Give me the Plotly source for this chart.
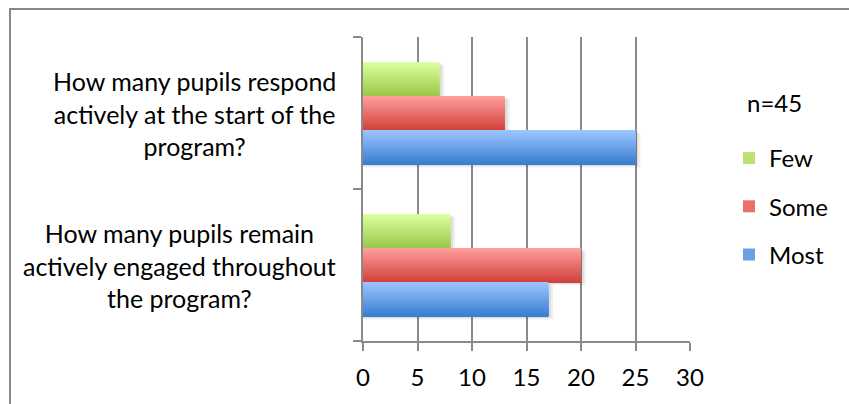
import plotly.graph_objects as go

# Survey questions (bottom to top on the category axis)
questions = [
    "How many pupils remain actively engaged throughout the program?",
    "How many pupils respond actively at the start of the program?",
]
question_lines = [
    ["How many pupils remain", "actively engaged throughout", "the program?"],
    ["How many pupils respond", "actively at the start of the", "program?"],
]

series_names = ["Few", "Some", "Most"]
few = [8, 7]
some = [20, 13]
most = [17, 25]
sample_note = "n=45"

x_ticks = [0, 5, 10, 15, 20, 25, 30]

# Gradient colours (top -> bottom) for each series
gradients = {
    "Few": ("#DCFF9F", "#9CC84A"),
    "Some": ("#FF9E9B", "#D2433E"),
    "Most": ("#9CC5FF", "#3C7FD0"),
}

FONT = "Lato"
W, H = 849, 404
L, R, T, B = 363, 159, 37, 63
PW, PH = W - L - R, H - T - B


def lerp_hex(c1, c2, t):
    a = [int(c1[i:i + 2], 16) for i in (1, 3, 5)]
    b = [int(c2[i:i + 2], 16) for i in (1, 3, 5)]
    return "rgb({},{},{})".format(*[round(a[k] + (b[k] - a[k]) * t) for k in range(3)])


def px_x(px):
    return (px - L) / PW


def px_y(py):
    return (H - B - py) / PH


values = {"Few": few, "Some": some, "Most": most}
bar_w = 0.224            # thickness of one bar in category units
centres = {"Few": bar_w, "Some": 0.0, "Most": -bar_w}
n_slices = 24
legend_rank = {"Few": 1, "Some": 2, "Most": 3}

# soft drop shadow behind each bar
shadows = []
for name in series_names:
    for dx, dy, a in [(0.45, 0.022, 0.06), (0.25, 0.012, 0.08)]:
        shadows.append(go.Bar(
            y=questions, x=[v + dx for v in values[name]], orientation="h",
            width=bar_w, offset=centres[name] - bar_w / 2 - dy,
            marker=dict(color=f"rgba(0,0,0,{a})", line=dict(width=0)),
            showlegend=False, hoverinfo="skip", legendgroup=name,
        ))

# each bar is drawn as a stack of slices, each reaching down to the bar's
# bottom edge, painted top first so the gradient has no seams
bars = []
for name in series_names:
    top_c, bot_c = gradients[name]
    sw = bar_w / n_slices
    bottom = centres[name] - bar_w / 2
    for j in range(n_slices):
        t = j / (n_slices - 1)
        y_top = centres[name] + bar_w / 2 - j * sw
        bars.append(go.Bar(
            y=questions, x=values[name], orientation="h",
            width=y_top - bottom, offset=bottom,
            marker=dict(color=lerp_hex(top_c, bot_c, t), line=dict(width=0)),
            name=name, legendgroup=name, legendrank=legend_rank[name],
            showlegend=(j == n_slices // 2),
            hovertemplate=f"{name}: %{{x}}<extra></extra>",
        ))

fig = go.Figure(data=shadows + bars)

# multi-line category labels, centred within a right-aligned block
annotations = []
for q, lines in zip(questions, question_lines):
    annotations.append(dict(
        x=px_x(338), xref="paper", xanchor="right",
        y=q, yref="y", yanchor="middle",
        text="<br>".join(lines), align="center", showarrow=False,
        font=dict(family=FONT, size=25, color="#000000"),
    ))

annotations.append(dict(
    x=px_x(745), xref="paper", xanchor="left",
    y=px_y(103), yref="paper", yanchor="middle",
    text=sample_note, showarrow=False,
    font=dict(family=FONT, size=24, color="#000000"),
))

grid_col = "#8A8A8A"

fig.update_layout(
    width=W, height=H,
    margin=dict(l=L, r=R, t=T, b=B, pad=0),
    paper_bgcolor="white", plot_bgcolor="white",
    barmode="overlay",
    showlegend=True,
    legend=dict(
        x=px_x(729), xanchor="left", y=px_y(136), yanchor="top",
        font=dict(family=FONT, size=24, color="#000000"),
        tracegroupgap=14, bgcolor="rgba(0,0,0,0)",
        traceorder="grouped",
    ),
    xaxis=dict(
        range=[0, 30], tickvals=x_ticks, ticktext=[str(v) for v in x_ticks],
        showgrid=True, gridcolor=grid_col, gridwidth=2,
        zeroline=False, showline=True, linecolor=grid_col, linewidth=2,
        ticks="outside", ticklen=8, tickwidth=2, tickcolor=grid_col,
        ticklabelstandoff=6,
        tickfont=dict(family=FONT, size=24, color="#000000"),
        fixedrange=True,
    ),
    yaxis=dict(
        type="category", categoryorder="array", categoryarray=questions,
        range=[-0.5, 1.5],
        showgrid=False, zeroline=False, showline=True, linecolor=grid_col, linewidth=2,
        ticks="outside", tickson="boundaries", ticklen=8, tickwidth=2, tickcolor=grid_col,
        showticklabels=False, fixedrange=True,
    ),
    annotations=annotations,
    shapes=[dict(
        type="rect", xref="paper", yref="paper",
        x0=px_x(10), y0=-1.0, x1=2.0, y1=px_y(9),
        line=dict(color="#888888", width=2), fillcolor="rgba(0,0,0,0)", layer="below",
    )],
)

fig.write_html("out.html")
